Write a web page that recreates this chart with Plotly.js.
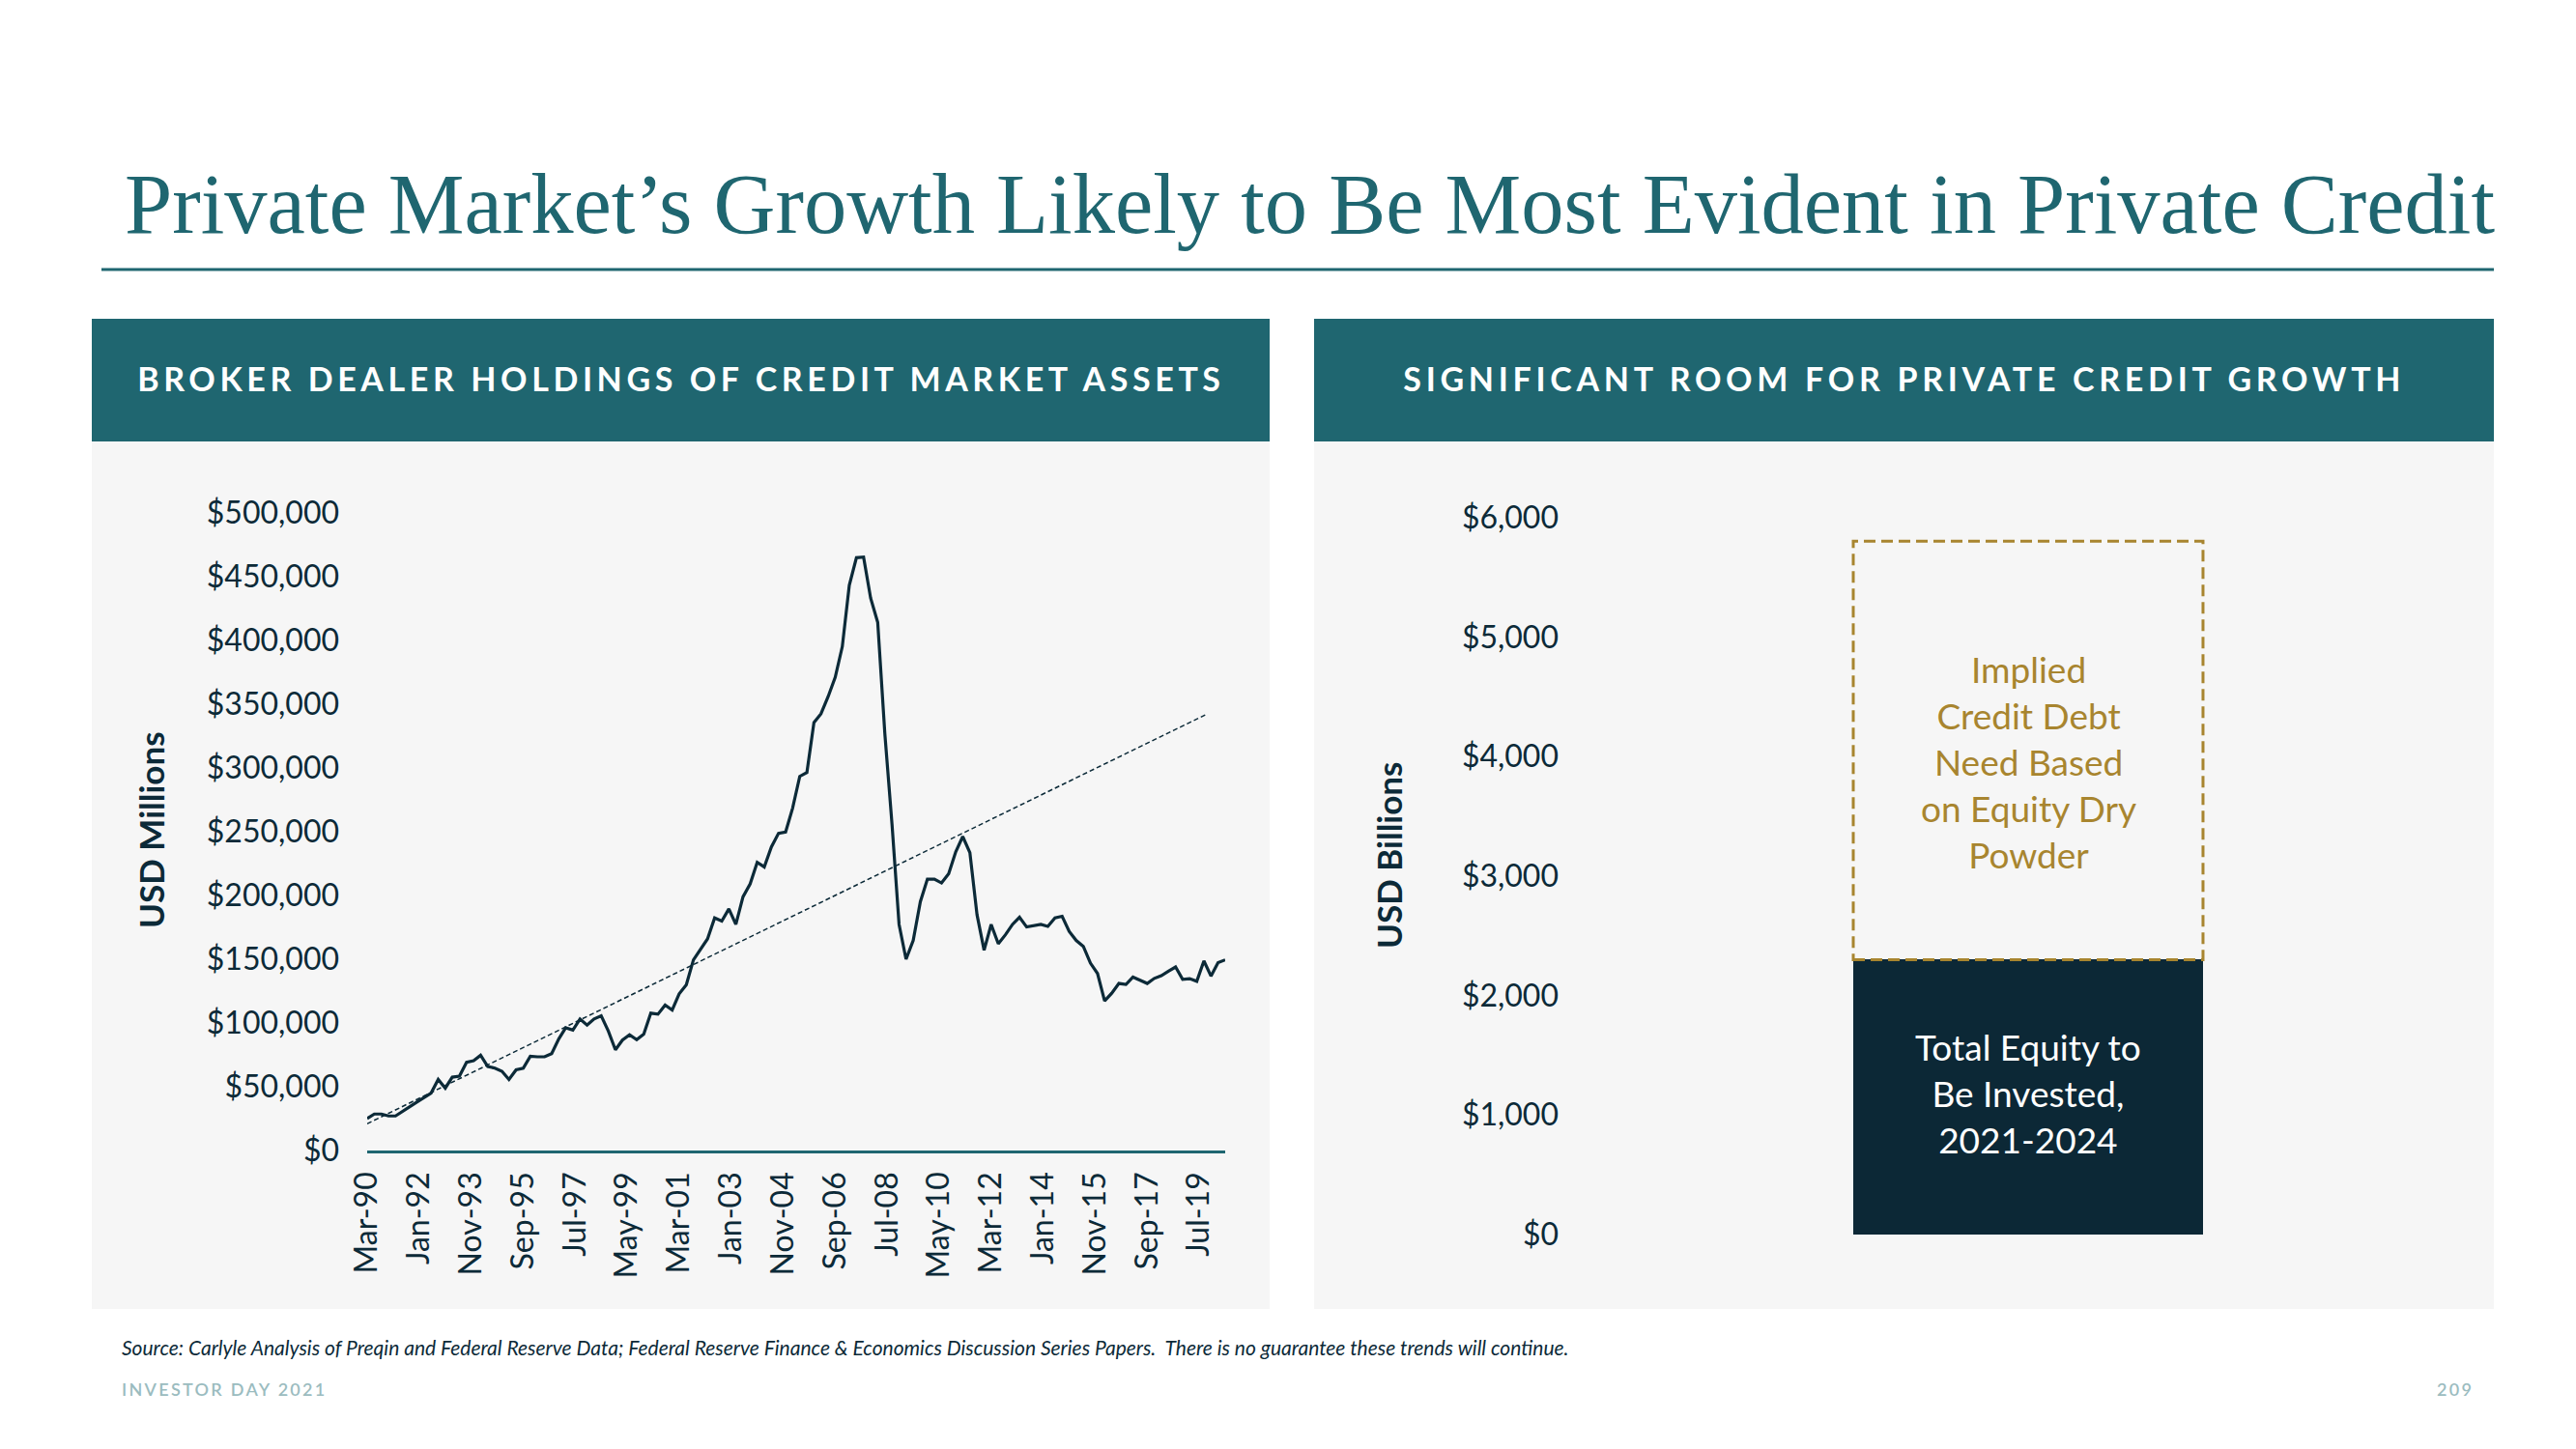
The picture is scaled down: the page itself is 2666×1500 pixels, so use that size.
<!DOCTYPE html>
<html>
<head>
<meta charset="utf-8">
<script src="https://cdn.plot.ly/plotly-3.0.1.min.js"></script>
<style>
html,body{margin:0;padding:0;background:#ffffff;}
#chart{width:2666px;height:1500px;}
.annotation[data-index="1"] .annotation-text{letter-spacing:4.6px;}
.annotation[data-index="2"] .annotation-text{letter-spacing:4.7px;}
.annotation[data-index="8"] .annotation-text,
.annotation[data-index="9"] .annotation-text{letter-spacing:2.3px;}
</style>
</head>
<body>
<div id="chart"></div>
<script>
// ---------------- DATA ----------------
// Broker dealer holdings of credit market assets, quarterly from Mar-1990 (USD millions)
const brokerDealerHoldings = [
  25000, 28600, 28600, 27100, 27100, 30500, 34300, 38000, 41500, 45000,
  55700, 48900, 57500, 58300, 69200, 70400, 74700, 65900, 64600, 62100,
  55700, 63300, 64600, 74000, 73500, 73500, 76000, 87400, 96300, 94500,
  103100, 98300, 103100, 105600, 93700, 79000, 86600, 90700, 86900, 91200,
  107700, 106900, 114000, 110200, 122900, 130000, 149500, 158300, 165900, 182400,
  179900, 189500, 177300, 198900, 209000, 226000, 222400, 238100, 248800, 249800,
  268500, 293400, 296400, 335700, 342500, 355900, 371100, 395200, 443300, 464900,
  465400, 433200, 414200, 326800, 255900, 177300, 150000, 164700, 195100, 212800,
  212800, 209800, 217100, 234300, 246200, 233600, 184900, 157100, 177300, 162100,
  169200, 177300, 182900, 175300, 176100, 177300, 175800, 182400, 183700, 171800,
  164700, 160100, 146900, 138800, 117300, 123400, 131000, 130200, 136000, 133500,
  131000, 135000, 137100, 140600, 143900, 134300, 134800, 132700, 148700, 136800,
  147400, 149500
];
const firstQuarterYear = 1990;
const firstQuarterMonth = 3;

// linear trend (dashed) end points
const trendDates = ['1990-03-01', '2019-10-01'];
const trendValues = [21000, 342000];

// x-axis tick labels
const xTickDates = ['1990-03-01','1992-01-01','1993-11-01','1995-09-01','1997-07-01','1999-05-01',
  '2001-03-01','2003-01-01','2004-11-01','2006-09-01','2008-07-01','2010-05-01','2012-03-01',
  '2014-01-01','2015-11-01','2017-09-01','2019-07-01'];
const xTickLabels = ['Mar-90','Jan-92','Nov-93','Sep-95','Jul-97','May-99','Mar-01','Jan-03',
  'Nov-04','Sep-06','Jul-08','May-10','Mar-12','Jan-14','Nov-15','Sep-17','Jul-19'];
const leftYTicks = [0, 50000, 100000, 150000, 200000, 250000, 300000, 350000, 400000, 450000, 500000];
const leftYTickLabels = ['$0','$50,000','$100,000','$150,000','$200,000','$250,000','$300,000',
  '$350,000','$400,000','$450,000','$500,000'];

// right chart (USD billions)
const barCategories = ['2021-2024'];
const totalEquity = [2300];
const impliedCreditDebt = [3500];
const rightYTicks = [0, 1000, 2000, 3000, 4000, 5000, 6000];
const rightYTickLabels = ['$0','$1,000','$2,000','$3,000','$4,000','$5,000','$6,000'];

// ---------------- HELPERS ----------------
const W = 2666, H = 1500;
const px = v => v / W;
const py = v => 1 - v / H;
const quarterDates = brokerDealerHoldings.map((_, i) => {
  const m = (firstQuarterMonth - 1) + 3 * i;
  const y = firstQuarterYear + Math.floor(m / 12);
  const mm = (m % 12) + 1;
  return y + '-' + String(mm).padStart(2, '0') + '-01';
});

const TEAL = '#1f6670';
const NAVY = '#0c2a38';
const GOLD = '#a8852f';
const PANEL = '#f6f6f6';
const SANS = 'Lato, "Noto Sans", sans-serif';
const barWidth = 0.381;

// ---------------- TRACES ----------------
const traces = [
  {
    type: 'scatter', mode: 'lines', x: quarterDates, y: brokerDealerHoldings,
    line: {color: NAVY, width: 3.2}, xaxis: 'x', yaxis: 'y', hoverinfo: 'skip', showlegend: false
  },
  {
    type: 'scatter', mode: 'lines', x: trendDates, y: trendValues,
    line: {color: NAVY, width: 1.5, dash: '5px,3px'}, xaxis: 'x', yaxis: 'y', hoverinfo: 'skip', showlegend: false
  },
  {
    type: 'bar', x: barCategories, y: totalEquity, width: barWidth,
    marker: {color: '#0c2836', line: {width: 0}}, xaxis: 'x2', yaxis: 'y2', showlegend: false, hoverinfo: 'skip'
  },
  {
    type: 'bar', x: barCategories, y: impliedCreditDebt, width: barWidth,
    marker: {color: 'rgba(0,0,0,0)', line: {width: 0}}, xaxis: 'x2', yaxis: 'y2', showlegend: false, hoverinfo: 'skip'
  }
];

// ---------------- LAYOUT ----------------
const tickFont = {family: SANS, size: 32, color: NAVY};

const layout = {
  width: W, height: H,
  margin: {l: 0, r: 0, t: 0, b: 0, pad: 0},
  paper_bgcolor: '#ffffff',
  plot_bgcolor: 'rgba(0,0,0,0)',
  barmode: 'stack',
  showlegend: false,
  xaxis: {
    domain: [px(380), px(1268)], type: 'date',
    range: [quarterDates[0], quarterDates[quarterDates.length - 1]],
    tickmode: 'array', tickvals: xTickDates, ticktext: xTickLabels, tickangle: -90,
    tickfont: tickFont, ticks: '', ticklabelstandoff: 7,
    showline: true, linecolor: TEAL, linewidth: 2.5,
    showgrid: false, zeroline: false, fixedrange: true
  },
  yaxis: {
    domain: [py(1191), py(531)], range: [0, 500000],
    tickmode: 'array', tickvals: leftYTicks, ticktext: leftYTickLabels,
    tickfont: tickFont, ticks: '', ticklabelstandoff: 28,
    showline: false, showgrid: false, zeroline: false, fixedrange: true
  },
  xaxis2: {
    domain: [px(1624), px(2574)], type: 'category', range: [-0.5, 0.5],
    showticklabels: false, ticks: '', showline: false, showgrid: false, zeroline: false,
    anchor: 'y2', fixedrange: true
  },
  yaxis2: {
    domain: [py(1278), py(535.6)], range: [0, 6000],
    tickmode: 'array', tickvals: rightYTicks, ticktext: rightYTickLabels,
    tickfont: tickFont, ticks: '', ticklabelstandoff: 10,
    showline: false, showgrid: false, zeroline: false, anchor: 'x2', fixedrange: true
  },
  shapes: [
    // panels
    {type: 'rect', xref: 'paper', yref: 'paper', x0: px(95), x1: px(1314), y0: py(1355), y1: py(457),
     fillcolor: PANEL, line: {width: 0}, layer: 'below'},
    {type: 'rect', xref: 'paper', yref: 'paper', x0: px(1360), x1: px(2581), y0: py(1355), y1: py(457),
     fillcolor: PANEL, line: {width: 0}, layer: 'below'},
    // header bands
    {type: 'rect', xref: 'paper', yref: 'paper', x0: px(95), x1: px(1314), y0: py(457), y1: py(330),
     fillcolor: TEAL, line: {width: 0}, layer: 'below'},
    {type: 'rect', xref: 'paper', yref: 'paper', x0: px(1360), x1: px(2581), y0: py(457), y1: py(330),
     fillcolor: TEAL, line: {width: 0}, layer: 'below'},
    // title rule
    {type: 'line', xref: 'paper', yref: 'paper', x0: px(105), x1: px(2581), y0: py(279), y1: py(279),
     line: {color: TEAL, width: 3}},
    // dashed implied-credit box
    {type: 'rect', xref: 'x2', yref: 'y2', x0: -barWidth / 2, x1: barWidth / 2,
     y0: totalEquity[0], y1: totalEquity[0] + impliedCreditDebt[0],
     line: {color: GOLD, width: 3, dash: '12px,6px'}, fillcolor: 'rgba(0,0,0,0)', layer: 'above'}
  ],
  annotations: [
    // 0 title
    {xref: 'paper', yref: 'paper', x: px(127), y: py(211), xanchor: 'left', yanchor: 'middle', align: 'left',
     text: 'Private Market\u2019s Growth Likely to Be Most Evident in Private Credit', showarrow: false,
     font: {family: '"Liberation Serif", "DejaVu Serif", serif', size: 88.5, color: TEAL}},
    // 1,2 headers
    {xref: 'paper', yref: 'paper', x: px(704.5), y: py(392), xanchor: 'center', yanchor: 'middle',
     text: 'BROKER DEALER HOLDINGS OF CREDIT MARKET ASSETS', showarrow: false,
     font: {family: SANS, size: 34, color: '#ffffff', weight: 700}},
    {xref: 'paper', yref: 'paper', x: px(1970.5), y: py(392), xanchor: 'center', yanchor: 'middle',
     text: 'SIGNIFICANT ROOM FOR PRIVATE CREDIT GROWTH', showarrow: false,
     font: {family: SANS, size: 34, color: '#ffffff', weight: 700}},
    // 3,4 axis titles
    {xref: 'paper', yref: 'paper', x: px(156), y: py(859), xanchor: 'center', yanchor: 'middle',
     text: 'USD Millions', textangle: -90, showarrow: false,
     font: {family: SANS, size: 35, color: NAVY, weight: 700}},
    {xref: 'paper', yref: 'paper', x: px(1437), y: py(886), xanchor: 'center', yanchor: 'middle',
     text: 'USD Billions', textangle: -90, showarrow: false,
     font: {family: SANS, size: 35, color: NAVY, weight: 700}},
    // 5,6 bar texts
    {xref: 'x2', yref: 'y2', x: 0, y: totalEquity[0] + impliedCreditDebt[0] / 2, yshift: -12,
     xanchor: 'center', yanchor: 'middle', align: 'center', showarrow: false,
     text: 'Implied<br>Credit Debt<br>Need Based<br>on Equity Dry<br>Powder',
     font: {family: SANS, size: 37, color: GOLD}},
    {xref: 'x2', yref: 'y2', x: 0, y: totalEquity[0] / 2, yshift: 4,
     xanchor: 'center', yanchor: 'middle', align: 'center', showarrow: false,
     text: 'Total Equity to<br>Be Invested,<br>2021-2024',
     font: {family: SANS, size: 37, color: '#ffffff'}},
    // 7 source
    {xref: 'paper', yref: 'paper', x: px(124), y: py(1394), xanchor: 'left', yanchor: 'middle', align: 'left',
     text: 'Source: Carlyle Analysis of Preqin and Federal Reserve Data; Federal Reserve Finance &amp; Economics Discussion Series Papers.  There is no guarantee these trends will continue.',
     showarrow: false, font: {family: SANS, size: 21, color: NAVY, style: 'italic'}},
    // 8,9 footer
    {xref: 'paper', yref: 'paper', x: px(124), y: py(1438), xanchor: 'left', yanchor: 'middle', align: 'left',
     text: 'INVESTOR DAY 2021', showarrow: false,
     font: {family: SANS, size: 18, color: '#9bbcbf', weight: 600}},
    {xref: 'paper', yref: 'paper', x: px(2562), y: py(1438), xanchor: 'right', yanchor: 'middle', align: 'right',
     text: '209', showarrow: false,
     font: {family: SANS, size: 18, color: '#9bbcbf', weight: 600}}
  ]
};

Plotly.newPlot('chart', traces, layout, {displayModeBar: false, staticPlot: true});
</script>
</body>
</html>
